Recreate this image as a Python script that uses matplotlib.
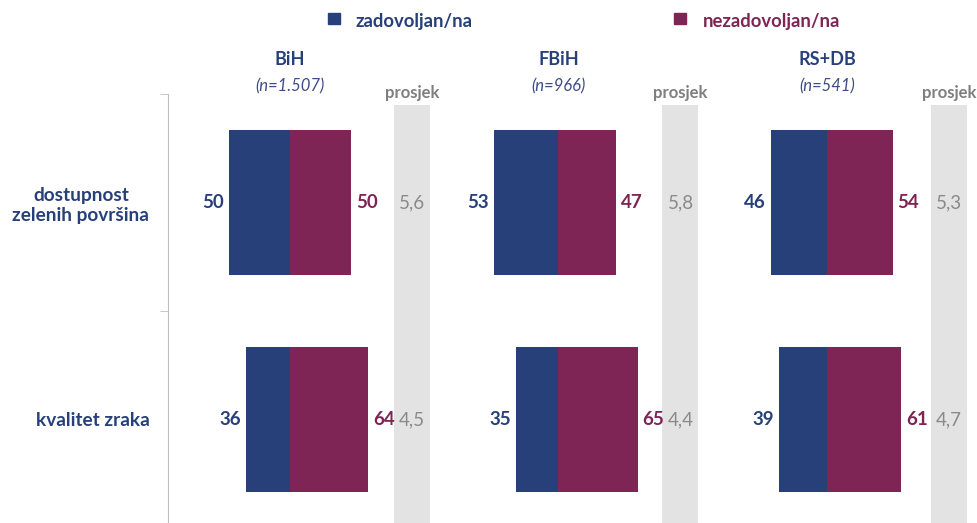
import matplotlib.pyplot as plt
from matplotlib.patches import Rectangle

plt.rcParams['font.family'] = ['Lato', 'DejaVu Sans']

categories = ['dostupnost\nzelenih površina', 'kvalitet zraka']
regions = ['BiH', 'FBiH', 'RS+DB']
samples = ['(n=1.507)', '(n=966)', '(n=541)']
satisfied = [[50, 36], [53, 35], [46, 39]]
dissatisfied = [[50, 64], [47, 65], [54, 61]]
averages = [[5.6, 4.5], [5.8, 4.4], [5.3, 4.7]]

blue = '#27407a'
purple = '#7e2555'
grey_col = '#e3e3e3'
grey_txt = '#8a8a8a'

W, H = 977, 523
fig = plt.figure(figsize=(W / 100, H / 100), dpi=100)
ax = fig.add_axes([168 / W, -5 / H, 1 - 168 / W, (528 - 94) / H])

offsets = [0, 220, 440]
ypos = [0, 1]
bar_h = 0.664

for i, off in enumerate(offsets):
    left = [off - v for v in satisfied[i]]
    ax.barh(ypos, satisfied[i], left=left, height=bar_h, color=blue, zorder=3)
    ax.barh(ypos, dissatisfied[i], left=[off] * 2, height=bar_h, color=purple, zorder=3)
    # grey "prosjek" column
    ax.bar(off + 100, 1.95, bottom=-0.45, width=29.5, color=grey_col, zorder=1)
    for j in ypos:
        ax.text(off - satisfied[i][j] - 4, j, str(satisfied[i][j]), ha='right', va='center',
                color=blue, fontsize=13.5, fontweight='bold')
        ax.text(off + dissatisfied[i][j] + 4, j, str(dissatisfied[i][j]), ha='left', va='center',
                color=purple, fontsize=13.5, fontweight='bold')
        ax.text(off + 100, j, f'{averages[i][j]:.1f}'.replace('.', ','), ha='center', va='center',
                color=grey_txt, fontsize=13.5)
    ax.text(off + 100, -0.505, 'prosjek', ha='center', va='center', color='#7f7f7f',
            fontsize=12, fontweight='bold', clip_on=False)
    ax.text(off, -0.66, regions[i], ha='center', va='center', color=blue,
            fontsize=13, fontweight='bold', clip_on=False)
    ax.text(off, -0.535, samples[i], ha='center', va='center', color='#3d4d88',
            fontsize=12, style='italic', clip_on=False)

ax.set_xlim(-100, 563)
ax.set_ylim(1.5, -0.5)
ax.set_yticks(ypos)
ax.set_yticklabels(categories, color=blue, fontsize=13.7, fontweight='bold',
                   multialignment='center')
ax.set_yticks([-0.5, 0.5, 1.5], minor=True)
ax.tick_params(axis='y', which='major', length=0, pad=13.5)
ax.tick_params(axis='y', which='minor', length=6, color='#bfbfbf')
ax.set_xticks([])
for s in ['top', 'right', 'bottom']:
    ax.spines[s].set_visible(False)
ax.spines['left'].set_color('#bfbfbf')
ax.set_facecolor('none')

# legend
fig.patches.append(Rectangle((328 / W, 1 - 24 / H), 12 / W, 11 / H, color=blue,
                             transform=fig.transFigure, figure=fig))
fig.text(356 / W, 1 - 22 / H, 'zadovoljan/na', color=blue, fontsize=13.3,
         fontweight='bold', va='center', ha='left')
fig.patches.append(Rectangle((674 / W, 1 - 24 / H), 12 / W, 11 / H, color=purple,
                             transform=fig.transFigure, figure=fig))
fig.text(703 / W, 1 - 22 / H, 'nezadovoljan/na', color=purple, fontsize=13.3,
         fontweight='bold', va='center', ha='left')

fig.savefig('out.png', dpi=100)
